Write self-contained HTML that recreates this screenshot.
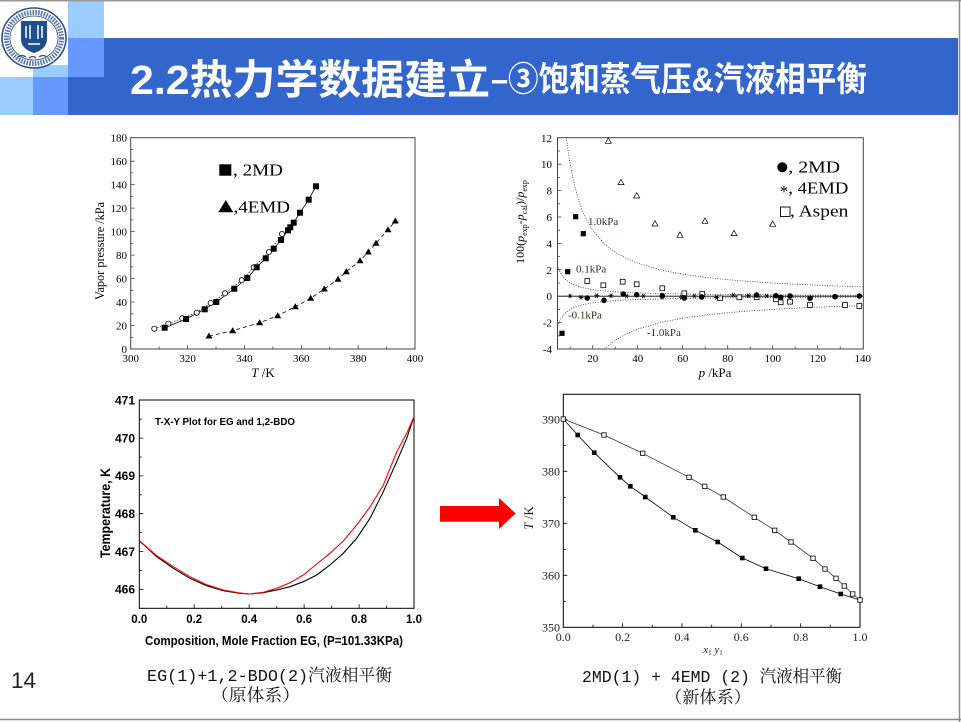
<!DOCTYPE html>
<html><head><meta charset="utf-8"><style>html,body{margin:0;padding:0;background:#fff}svg{display:block}</style></head>
<body>
<svg width="961" height="722" viewBox="0 0 961 722" xmlns="http://www.w3.org/2000/svg">
<defs>
<rect id="fsq" x="-3" y="-3" width="6" height="6" fill="#000"/>
<circle id="ocir" r="2.6" fill="#fff" stroke="#000" stroke-width="0.8"/>
<polygon id="ftri" points="0,-3.5 3.5,2.5 -3.5,2.5" fill="#000"/>
<rect id="fsq2" x="-2.6" y="-2.6" width="5.2" height="5.2" fill="#000"/>
<rect id="osq2" x="-2.4" y="-2.4" width="4.8" height="4.8" fill="#fff" stroke="#000" stroke-width="0.8"/>
<circle id="fcir2" r="2.8" fill="#000"/>
<polygon id="otri2" points="0,-3 3,2.3 -3,2.3" fill="#fff" stroke="#000" stroke-width="0.7"/>
<path id="ast" d="M-2.6,0H2.6M-1.3,-2.2L1.3,2.2M1.3,-2.2L-1.3,2.2" stroke="#000" stroke-width="0.8" fill="none"/>
<rect id="fsq3" x="-2.3" y="-2.3" width="4.6" height="4.6" fill="#000"/>
<rect id="osq3" x="-2.2" y="-2.2" width="4.4" height="4.4" fill="#fff" stroke="#000" stroke-width="0.8"/>
</defs>

<!-- header -->
<rect x="0" y="0" width="961" height="722" fill="#fff"/>
<rect x="68" y="0" width="36" height="38" fill="#99ccff"/>
<rect x="33" y="65" width="35" height="12" fill="#99ccff"/>
<rect x="68" y="38" width="36" height="39" fill="#6699ff"/>
<rect x="104" y="38" width="854" height="77" fill="#3366cc"/>
<rect x="68" y="77" width="36" height="38" fill="#3366cc"/>
<rect x="0" y="77" width="33" height="38" fill="#99ccff"/>
<rect x="33" y="77" width="35" height="38" fill="#6699ff"/>
<line x1="0" y1="0.75" x2="961" y2="0.75" stroke="#999" stroke-width="1.5"/>
<line x1="959.5" y1="0" x2="959.5" y2="722" stroke="#888" stroke-width="1.5"/>
<line x1="0" y1="719.5" x2="961" y2="719.5" stroke="#888" stroke-width="1.5"/>
<!-- logo -->
<ellipse cx="34" cy="38" rx="32" ry="30" fill="#fff" stroke="#2c4f8c" stroke-width="1.6"/>
<ellipse cx="34" cy="38" rx="27.5" ry="25.5" fill="none" stroke="#5a78ad" stroke-width="5" stroke-dasharray="1.6 1.2"/>
<ellipse cx="34" cy="38" rx="24" ry="22" fill="#fff" stroke="#2c4f8c" stroke-width="0.8"/>
<path d="M21,21 H47 V39 Q47,49 34,53 Q21,49 21,39 Z" fill="#1f4e8f"/>
<path d="M26,26 v12 M30,25 v14 M38,25 v14 M42,26 v12 M28,44 h12" stroke="#fff" stroke-width="1.5"/>
<path d="M18,57 q4,-3 8,0 M29,58 q4,-3 7,0 M39,57 q4,-3 8,0" stroke="#2c4f8c" stroke-width="1.3" fill="none"/>
<!-- title -->
<text x="130" y="94" fill="#fff" font-weight="bold" font-size="41" font-family="Liberation Sans, Noto Sans CJK SC, sans-serif" textLength="360" lengthAdjust="spacingAndGlyphs">2.2热力学数据建立</text>
<text x="491" y="91" fill="#fff" font-weight="bold" font-size="34" font-family="Liberation Sans, Noto Sans CJK SC, sans-serif" textLength="376" lengthAdjust="spacingAndGlyphs">–③饱和蒸气压&amp;汽液相平衡</text>

<!-- ============ TOP-LEFT CHART ============ -->
<g font-family="Liberation Serif, serif" fill="#000">
<rect x="130.7" y="137.7" width="284.3" height="211.3" fill="none" stroke="#444" stroke-width="1"/>
<path stroke="#444" stroke-width="0.8" fill="none" d="
M130.7,349h4M130.7,325.5h4M130.7,302h4M130.7,278.6h4M130.7,255.1h4M130.7,231.6h4M130.7,208.1h4M130.7,184.6h4M130.7,161.2h4
M130.7,337.3h2.5M130.7,313.8h2.5M130.7,290.3h2.5M130.7,266.9h2.5M130.7,243.4h2.5M130.7,219.9h2.5M130.7,196.4h2.5M130.7,172.9h2.5M130.7,149.5h2.5
M187.6,349v-4M244.4,349v-4M301.3,349v-4M358.2,349v-4
M159.1,349v-2.5M216,349v-2.5M272.9,349v-2.5M329.7,349v-2.5M386.6,349v-2.5"/>
<g font-size="11" text-anchor="end">
<text x="127" y="353">0</text><text x="127" y="329.5">20</text><text x="127" y="306">40</text><text x="127" y="282.6">60</text><text x="127" y="259.1">80</text><text x="127" y="235.6">100</text><text x="127" y="212.1">120</text><text x="127" y="188.6">140</text><text x="127" y="165.2">160</text><text x="127" y="141.7">180</text>
</g>
<g font-size="11" text-anchor="middle">
<text x="130.7" y="362">300</text><text x="187.6" y="362">320</text><text x="244.4" y="362">340</text><text x="301.3" y="362">360</text><text x="358.2" y="362">380</text><text x="415" y="362">400</text>
</g>
<text x="263" y="377" font-size="13" text-anchor="middle"><tspan font-style="italic">T</tspan> /K</text>
<text transform="translate(104,251) rotate(-90)" font-size="12.5" text-anchor="middle" textLength="98" lengthAdjust="spacingAndGlyphs">Vapor pressure /kPa</text>
<!-- lines -->
<polyline fill="none" stroke="#000" stroke-width="0.8" points="164.7,327.7 186,319 204.7,309.3 216.3,302 234.3,288.7 247.3,278 256.7,267.3 265.7,258.3 273.7,248.7 281,240 288,230.3 290.3,227.3 293.7,222.7 300,212.7 308.7,199.7 316,186.3"/>
<polyline fill="none" stroke="#000" stroke-width="0.7" stroke-dasharray="1.5 1.5" points="154.3,328.7 168.3,323.7 182.3,318.3 196.7,312.7 210.7,303 225,293.3 241.7,280.3 253.7,267.3 269,252 282,234"/>
<polyline fill="none" stroke="#000" stroke-width="0.8" stroke-dasharray="4 3" points="209,336 232.7,330.7 259.7,322.7 277.7,315.7 295.3,306.7 310.7,298.3 324.3,289 338,279.3 346.3,271.7 360,260.7 368.3,252 376,243.3 388,229.7 395.3,221"/>
<!-- markers -->
<use href="#ocir" x="154.3" y="328.7"/><use href="#ocir" x="168.3" y="323.7"/><use href="#ocir" x="182.3" y="318.3"/><use href="#ocir" x="196.7" y="312.7"/><use href="#ocir" x="210.7" y="303"/><use href="#ocir" x="225" y="293.3"/><use href="#ocir" x="241.7" y="280.3"/><use href="#ocir" x="253.7" y="267.3"/><use href="#ocir" x="269" y="252"/><use href="#ocir" x="282" y="234"/>
<use href="#fsq" x="164.7" y="327.7"/><use href="#fsq" x="186" y="319"/><use href="#fsq" x="204.7" y="309.3"/><use href="#fsq" x="216.3" y="302"/><use href="#fsq" x="234.3" y="288.7"/><use href="#fsq" x="247.3" y="278"/><use href="#fsq" x="256.7" y="267.3"/><use href="#fsq" x="265.7" y="258.3"/><use href="#fsq" x="273.7" y="248.7"/><use href="#fsq" x="281" y="240"/><use href="#fsq" x="288" y="230.3"/><use href="#fsq" x="290.3" y="227.3"/><use href="#fsq" x="293.7" y="222.7"/><use href="#fsq" x="300" y="212.7"/><use href="#fsq" x="308.7" y="199.7"/><use href="#fsq" x="316" y="186.3"/>
<use href="#ftri" x="209" y="336"/><use href="#ftri" x="232.7" y="330.7"/><use href="#ftri" x="259.7" y="322.7"/><use href="#ftri" x="277.7" y="315.7"/><use href="#ftri" x="295.3" y="306.7"/><use href="#ftri" x="310.7" y="298.3"/><use href="#ftri" x="324.3" y="289"/><use href="#ftri" x="338" y="279.3"/><use href="#ftri" x="346.3" y="271.7"/><use href="#ftri" x="360" y="260.7"/><use href="#ftri" x="368.3" y="252"/><use href="#ftri" x="376" y="243.3"/><use href="#ftri" x="388" y="229.7"/><use href="#ftri" x="395.3" y="221"/>
<!-- legend -->
<rect x="219.3" y="164.3" width="12" height="11.4" fill="#000"/>
<text x="233" y="175.7" font-size="17" textLength="50" lengthAdjust="spacingAndGlyphs">, 2MD</text>
<polygon points="225.8,200 233.3,212.3 218.3,212.3" fill="#000"/>
<text x="233.5" y="212.3" font-size="17" textLength="56.5" lengthAdjust="spacingAndGlyphs">,4EMD</text>
</g>

<!-- ============ TOP-RIGHT CHART ============ -->
<g font-family="Liberation Serif, serif" fill="#000">
<rect x="557.5" y="137.7" width="305.8" height="211.3" fill="none" stroke="#444" stroke-width="1"/>
<line x1="557.5" y1="296.2" x2="863.3" y2="296.2" stroke="#000" stroke-width="0.8"/>
<path stroke="#444" stroke-width="0.8" fill="none" d="
M557.5,164.2h4M557.5,190.6h4M557.5,217h4M557.5,243.4h4M557.5,269.8h4M557.5,322.6h4
M557.5,151h2.5M557.5,177.4h2.5M557.5,203.8h2.5M557.5,230.2h2.5M557.5,256.6h2.5M557.5,283h2.5M557.5,309.4h2.5M557.5,335.8h2.5
M592.7,349v-4M637.7,349v-4M682.7,349v-4M727.7,349v-4M772.7,349v-4M817.7,349v-4
M570.2,349v-2.5M615.2,349v-2.5M660.2,349v-2.5M705.2,349v-2.5M750.2,349v-2.5M795.2,349v-2.5M840.2,349v-2.5"/>
<g font-size="11" text-anchor="end">
<text x="552" y="141.8">12</text><text x="552" y="168.2">10</text><text x="552" y="194.6">8</text><text x="552" y="221">6</text><text x="552" y="247.4">4</text><text x="552" y="273.8">2</text><text x="552" y="300.2">0</text><text x="552" y="326.6">-2</text><text x="552" y="353">-4</text>
</g>
<g font-size="11" text-anchor="middle">
<text x="592.7" y="362">20</text><text x="637.7" y="362">40</text><text x="682.7" y="362">60</text><text x="727.7" y="362">80</text><text x="772.7" y="362">100</text><text x="817.7" y="362">120</text><text x="862.7" y="362">140</text>
</g>
<text x="715" y="377" font-size="13" text-anchor="middle"><tspan font-style="italic">p</tspan> /kPa</text>
<text transform="translate(524,222) rotate(-90)" font-size="12" text-anchor="middle">100(<tspan font-style="italic">p</tspan><tspan font-size="8" dy="3">exp</tspan><tspan dy="-3">-</tspan><tspan font-style="italic">p</tspan><tspan font-size="8" dy="3">cal</tspan><tspan dy="-3">)/</tspan><tspan font-style="italic">p</tspan><tspan font-size="8" dy="3">exp</tspan></text>
<!-- dotted guide curves -->
<g fill="none" stroke="#333" stroke-width="0.8" stroke-dasharray="1 1.5">
<polyline points="566.4,137.7 567.95,149.5 570.2,164.2 572.45,176.2 574.7,186.2 579.2,201.9 583.7,213.7 588.2,222.9 592.7,230.2 603.95,243.4 615.2,252.2 626.45,258.5 637.7,263.2 660.2,269.8 682.7,274.2 705.2,277.3 727.7,279.7 750.2,281.5 772.7,283 795.2,284.2 817.7,285.2 840.2,286.05 862.7,286.8"/>
<polyline points="603.95,349 615.2,340.2 626.45,333.9 637.7,329.2 660.2,322.6 682.7,318.2 705.2,315.1 727.7,312.7 750.2,310.9 772.7,309.4 795.2,308.2 817.7,307.2 840.2,306.35 862.7,305.6"/>
<polyline points="557.6,266.2 558.95,269.8 561.2,274.2 563.45,277.3 565.7,279.7 570.2,283 574.7,285.2 581.45,287.4 592.7,289.6 603.95,290.9 615.2,291.8 637.7,292.9 682.7,294 727.7,294.55 772.7,294.9 862.7,295.3"/>
<polyline points="557.6,326.2 558.95,322.6 561.2,318.2 563.45,315.1 565.7,312.7 570.2,309.4 574.7,307.2 581.45,305 592.7,302.8 603.95,301.5 615.2,300.6 637.7,299.5 682.7,298.4 727.7,297.85 772.7,297.5 862.7,297.1"/>
</g>
<g font-size="11" fill="#3a2a1a">
<text x="588" y="225">1.0kPa</text>
<text x="576" y="272.7">0.1kPa</text>
<text x="568" y="318.3">-0.1kPa</text>
<text x="647" y="336">-1.0kPa</text>
</g>
<!-- markers -->
<use href="#otri2" x="608.3" y="141"/><use href="#otri2" x="621" y="182.3"/><use href="#otri2" x="636.7" y="195.7"/><use href="#otri2" x="655" y="223.7"/><use href="#otri2" x="680" y="235"/><use href="#otri2" x="705" y="221"/><use href="#otri2" x="734" y="233.3"/><use href="#otri2" x="772.7" y="224"/>
<use href="#fsq2" x="575.7" y="216.7"/><use href="#fsq2" x="583.3" y="233.7"/><use href="#fsq2" x="567.7" y="271.7"/><use href="#fsq2" x="562" y="333.3"/>
<use href="#osq2" x="587.3" y="281"/><use href="#osq2" x="603.3" y="285.3"/><use href="#osq2" x="622.7" y="281.7"/><use href="#osq2" x="636.7" y="284.3"/><use href="#osq2" x="662.3" y="288.3"/><use href="#osq2" x="684.3" y="293.3"/><use href="#osq2" x="702.3" y="294"/><use href="#osq2" x="720" y="298.3"/><use href="#osq2" x="739.3" y="297.3"/><use href="#osq2" x="756.7" y="297.3"/><use href="#osq2" x="776" y="299.3"/><use href="#osq2" x="780.7" y="302.3"/><use href="#osq2" x="790" y="301.7"/><use href="#osq2" x="810" y="305"/><use href="#osq2" x="845" y="305"/><use href="#osq2" x="859.3" y="306"/>
<use href="#fcir2" x="587.3" y="298"/><use href="#fcir2" x="604" y="300.3"/><use href="#fcir2" x="623.3" y="294"/><use href="#fcir2" x="636.7" y="294.7"/><use href="#fcir2" x="662.3" y="295.7"/><use href="#fcir2" x="684.3" y="298"/><use href="#fcir2" x="701.7" y="297"/><use href="#fcir2" x="756.7" y="295"/><use href="#fcir2" x="776" y="295.7"/><use href="#fcir2" x="780.7" y="297.3"/><use href="#fcir2" x="790" y="296"/><use href="#fcir2" x="810" y="298.3"/><use href="#fcir2" x="835" y="296.7"/><use href="#fcir2" x="859.3" y="296"/>
<use href="#ast" x="570" y="296"/><use href="#ast" x="581" y="297.3"/><use href="#ast" x="596.7" y="295.7"/><use href="#ast" x="611" y="295.7"/><use href="#ast" x="626.7" y="296"/><use href="#ast" x="643.3" y="296"/><use href="#ast" x="662.3" y="297.3"/><use href="#ast" x="681.7" y="297.3"/><use href="#ast" x="694.3" y="296"/><use href="#ast" x="716.7" y="297.3"/><use href="#ast" x="733.3" y="295"/><use href="#ast" x="748.3" y="295.7"/><use href="#ast" x="766.7" y="296"/>
<!-- legend -->
<circle cx="782.3" cy="167.3" r="5" fill="#000"/>
<text x="788.3" y="172.3" font-size="16.5" textLength="51.7" lengthAdjust="spacingAndGlyphs">, 2MD</text>
<text x="784" y="197" font-size="17" text-anchor="middle">*</text>
<text x="788.3" y="193.3" font-size="16.5" textLength="60" lengthAdjust="spacingAndGlyphs">, 4EMD</text>
<rect x="780.5" y="207" width="9.5" height="9.5" fill="#fff" stroke="#000" stroke-width="0.9"/>
<text x="790" y="216.7" font-size="16.5" textLength="58.3" lengthAdjust="spacingAndGlyphs">, Aspen</text>
</g>

<!-- ============ BOTTOM-LEFT CHART ============ -->
<g font-family="Liberation Sans, Arial, sans-serif" font-weight="bold" fill="#000">
<rect x="139.3" y="400" width="274.7" height="208.3" fill="none" stroke="#000" stroke-width="1"/>
<path stroke="#000" stroke-width="0.8" fill="none" d="
M139.3,589.3h4M139.3,551.5h4M139.3,513.7h4M139.3,475.9h4M139.3,438.1h4
M139.3,570.4h2.5M139.3,532.6h2.5M139.3,494.8h2.5M139.3,457h2.5M139.3,419.2h2.5
M194.2,608.3v-4M249.2,608.3v-4M304.1,608.3v-4M359.1,608.3v-4
M166.8,608.3v-2.5M221.7,608.3v-2.5M276.7,608.3v-2.5M331.6,608.3v-2.5M386.5,608.3v-2.5"/>
<g font-size="12" text-anchor="end">
<text x="135" y="404.3">471</text><text x="135" y="442.4">470</text><text x="135" y="480.2">469</text><text x="135" y="518">468</text><text x="135" y="555.8">467</text><text x="135" y="593.6">466</text>
</g>
<g font-size="11.5" text-anchor="middle">
<text x="139.3" y="623">0.0</text><text x="194.2" y="623">0.2</text><text x="249.2" y="623">0.4</text><text x="304.1" y="623">0.6</text><text x="359.1" y="623">0.8</text><text x="414" y="623">1.0</text>
</g>
<text x="155" y="425" font-size="10.5" textLength="140" lengthAdjust="spacingAndGlyphs">T-X-Y Plot for EG and 1,2-BDO</text>
<text x="145" y="645" font-size="12.5" textLength="258" lengthAdjust="spacingAndGlyphs">Composition, Mole Fraction EG, (P=101.33KPa)</text>
<text transform="translate(110,513) rotate(-90)" font-size="14" text-anchor="middle" textLength="90" lengthAdjust="spacingAndGlyphs">Temperature, K</text>
<polyline fill="none" stroke="#000" stroke-width="1.1" points="139.3,540.7 156.7,556.7 173.3,568.3 190,578.3 206.7,585.7 223.3,590.7 240,593.3 250,594 263.3,592.7 276.7,590 290,586.7 303.3,581.7 316.7,575 330,565 343.3,553.3 356.7,538.3 370,518.3 383.3,491.7 396.7,461.7 406.7,438.3 414,416.7"/>
<polyline fill="none" stroke="#ff0000" stroke-width="1.1" points="139.3,540.7 156.7,555.7 173.3,566.7 190,576.7 206.7,584.7 223.3,590 240,593 250,594 263.3,592.3 276.7,588.3 290,582.7 303.3,575 316.7,564 330,553.3 343.3,541 356.7,525 370,507 383.3,485 396.7,452 406.7,433.3 414,416.7"/>
</g>

<!-- arrow -->
<polygon points="440,506 499,506 499,498 515.7,513.5 499,529 499,521.7 440,521.7" fill="#ff0000"/>

<!-- ============ BOTTOM-RIGHT CHART ============ -->
<g font-family="Liberation Serif, serif" fill="#222">
<rect x="563.3" y="394.3" width="296.7" height="233" fill="none" stroke="#000" stroke-width="1"/>
<path stroke="#000" stroke-width="0.8" fill="none" d="
M563.3,575.3h4M563.3,523.3h4M563.3,471.3h4M563.3,419.3h4
M563.3,601.3h2.5M563.3,549.3h2.5M563.3,497.3h2.5M563.3,445.3h2.5
M622.6,627.3v-4M682,627.3v-4M741.3,627.3v-4M800.7,627.3v-4
M593,627.3v-2.5M652.3,627.3v-2.5M711.7,627.3v-2.5M771,627.3v-2.5M830.3,627.3v-2.5"/>
<g font-size="12" text-anchor="end">
<text x="560" y="631.3">350</text><text x="560" y="579.5">360</text><text x="560" y="527.5">370</text><text x="560" y="475.5">380</text><text x="560" y="423.3">390</text>
</g>
<g font-size="12" text-anchor="middle">
<text x="563.3" y="641">0.0</text><text x="622.6" y="641">0.2</text><text x="682" y="641">0.4</text><text x="741.3" y="641">0.6</text><text x="800.7" y="641">0.8</text><text x="860" y="641">1.0</text>
</g>
<text x="713" y="653" font-size="11" text-anchor="middle"><tspan font-style="italic">x</tspan><tspan font-size="7" dy="2">1</tspan><tspan dy="-2"> </tspan><tspan font-style="italic">y</tspan><tspan font-size="7" dy="2">1</tspan></text>
<text transform="translate(533,518) rotate(-90)" font-size="13" text-anchor="middle"><tspan font-style="italic">T</tspan> /K</text>
<polyline fill="none" stroke="#000" stroke-width="0.8" points="563.3,419 577.7,435 594.3,452.7 620,477.3 630.3,486.3 645.3,497 673.3,517.3 695.3,530.3 717.7,542 742.3,558 766,568.7 798.7,578.7 820,586.7 840.7,594 860,600"/>
<polyline fill="none" stroke="#333" stroke-width="0.8" points="563.3,419 604,435 642.7,453.3 689,477.3 704.7,486.3 723.3,497 754.3,517.3 774.7,530.3 791,542 813,558.3 825,569 836,578.3 844.3,586 852.7,594 860,600"/>
<use href="#osq3" x="563.3" y="419"/><use href="#osq3" x="860" y="600"/>
<use href="#fsq3" x="577.7" y="435"/><use href="#fsq3" x="594.3" y="452.7"/><use href="#fsq3" x="620" y="477.3"/><use href="#fsq3" x="630.3" y="486.3"/><use href="#fsq3" x="645.3" y="497"/><use href="#fsq3" x="673.3" y="517.3"/><use href="#fsq3" x="695.3" y="530.3"/><use href="#fsq3" x="717.7" y="542"/><use href="#fsq3" x="742.3" y="558"/><use href="#fsq3" x="766" y="568.7"/><use href="#fsq3" x="798.7" y="578.7"/><use href="#fsq3" x="820" y="586.7"/><use href="#fsq3" x="840.7" y="594"/>
<use href="#osq3" x="604" y="435"/><use href="#osq3" x="642.7" y="453.3"/><use href="#osq3" x="689" y="477.3"/><use href="#osq3" x="704.7" y="486.3"/><use href="#osq3" x="723.3" y="497"/><use href="#osq3" x="754.3" y="517.3"/><use href="#osq3" x="774.7" y="530.3"/><use href="#osq3" x="791" y="542"/><use href="#osq3" x="813" y="558.3"/><use href="#osq3" x="825" y="569"/><use href="#osq3" x="836" y="578.3"/><use href="#osq3" x="844.3" y="586"/><use href="#osq3" x="852.7" y="594"/>
</g>

<!-- bottom captions -->
<text x="11" y="688" font-family="Liberation Sans, sans-serif" font-size="22" fill="#222" textLength="25" lengthAdjust="spacingAndGlyphs">14</text>
<g font-family="Liberation Mono, Noto Serif CJK SC, serif" font-size="17" fill="#111">
<text x="147" y="681" textLength="245" lengthAdjust="spacingAndGlyphs">EG(1)+1,2-BDO(2)汽液相平衡</text>
<text x="211" y="701" textLength="89" lengthAdjust="spacingAndGlyphs">（原体系）</text>
<text x="582" y="682" textLength="260" lengthAdjust="spacingAndGlyphs">2MD(1) + 4EMD (2) 汽液相平衡</text>
<text x="665" y="703" textLength="86" lengthAdjust="spacingAndGlyphs">（新体系）</text>
</g>
</svg>
</body></html>
